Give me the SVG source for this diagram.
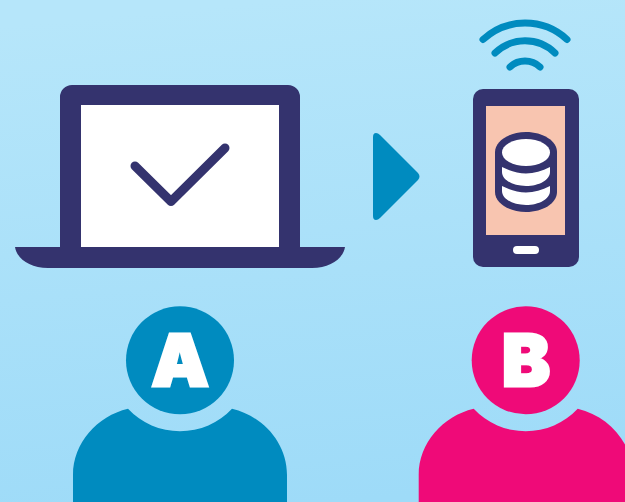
<svg xmlns="http://www.w3.org/2000/svg" width="625" height="502" viewBox="0 0 625 502">
<style>
.navy{fill:#34336e}.white{fill:#fff}.blue{fill:#008bbf}.pink{fill:#ef0a78}
.wifi{fill:none;stroke:#008bbf;stroke-width:7;stroke-linecap:round}
.letter{font-family:Inter,"Liberation Sans",sans-serif;font-weight:900;font-size:72px;fill:#fff;stroke:#fff;stroke-width:3;stroke-linejoin:miter;text-anchor:middle}
</style>
<defs>
<linearGradient id="bg" gradientUnits="userSpaceOnUse" x1="290" y1="0" x2="335" y2="502">
<stop offset="0" stop-color="#b6e6fa"/><stop offset="1" stop-color="#9edbf8"/>
</linearGradient>
<path id="body" d="M73 502V475C73 443 97 416 128 408.7A71 71 0 0 0 232 408.7C263 416 287 443 287 475V502Z"/>
</defs>
<rect width="625" height="502" fill="url(#bg)"/>
<g id="laptop">
<path class="navy" d="M60 247V97A12 12 0 0 1 72 85H288A12 12 0 0 1 300 97V247H345C343 259 330 268 312 268H48C30 268 17 259 15 247Z"/>
<rect class="white" x="81" y="105" width="198" height="142"/>
<path d="M135 166L171 201.500L225 148" fill="none" stroke="#34336e" stroke-width="9" stroke-linecap="round" stroke-linejoin="round"/>
</g>
<g id="connectors">
<path id="arrow" class="blue" d="M373 137Q373 133 376 133Q378 133 380 135L418 173Q421 176.500 418 180L380 218Q378 220 376 220Q373 220 373 216Z"/>
</g>
<g id="wifi">
<path class="wifi" d="M483 39.500A62 62 0 0 1 567 39.500"/>
<path class="wifi" d="M495 53A43 43 0 0 1 555 53"/>
<path class="wifi" d="M510 67A22 22 0 0 1 540 67"/>
</g>
<g id="phone">
<rect class="navy" x="473" y="89" width="106" height="178" rx="10"/>
<rect x="486" y="106" width="79" height="129" fill="#f8c5b0"/>
<rect class="white" x="513" y="246" width="26" height="8" rx="4"/>
<path class="navy" d="M495 152C495 141 509 132 526 132C543 132 557 141 557 152V192C557 203 543 212 526 212C509 212 495 203 495 192Z"/>
<ellipse class="white" cx="526" cy="152.500" rx="24" ry="13.500"/>
<path class="white" d="M502 167C510 171 518 173.500 526 173.500C534 173.500 542 171 550 167V172C550 180 539 186 526 186C513 186 502 180 502 172Z"/>
<path class="white" d="M502 186C510 190 518 192.500 526 192.500C534 192.500 542 190 550 186V191C550 199 539 205 526 205C513 205 502 199 502 191Z"/>
</g>
<g id="person-a">
<circle class="blue" cx="180" cy="360.300" r="54"/>
<use href="#body" class="blue"/>
<text class="letter" x="180" y="385.500">A</text>
</g>
<g id="person-b">
<circle class="pink" cx="525.700" cy="360.300" r="54"/>
<use href="#body" class="pink" x="345.700"/>
<text class="letter" x="526" y="385.500">B</text>
</g>
</svg>
